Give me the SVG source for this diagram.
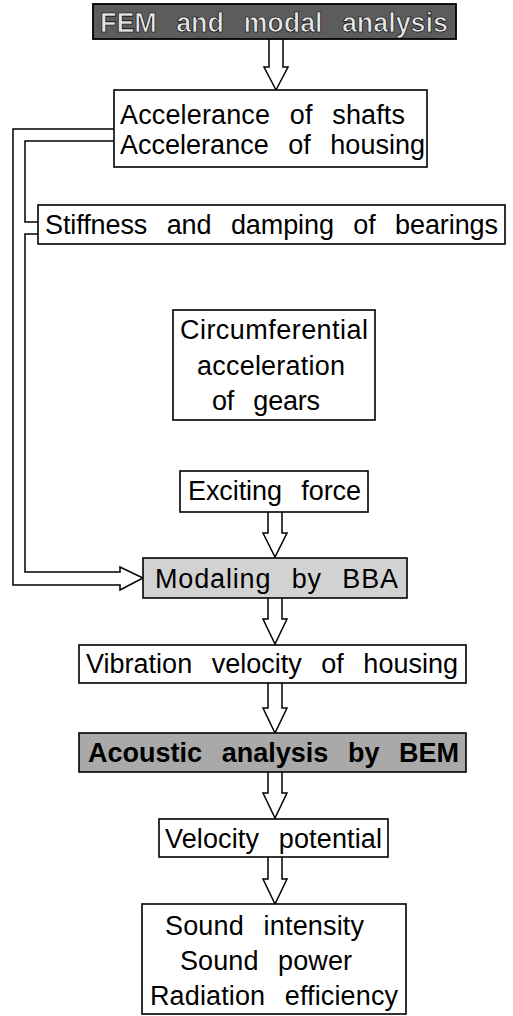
<svg xmlns="http://www.w3.org/2000/svg" width="513" height="1016" viewBox="0 0 513 1016">
<style>
.box{fill:#fff;stroke:#000;stroke-width:1.6}
.dark{fill:#5c5c5c;stroke:#000;stroke-width:1.8}
.mid{fill:#a9a9a9;stroke:#000;stroke-width:1.6}
.light{fill:#d2d2d2;stroke:#000;stroke-width:1.6}
text{font-family:"Liberation Sans",Arial,sans-serif;font-size:27px;fill:#000;word-spacing:12px}
.b{font-weight:bold}
.inv{fill:#e6e6e6;stroke:#000;stroke-width:0.7px}
.ln{fill:none;stroke:#000;stroke-width:1.5}
.arr{fill:#fff;stroke:#000;stroke-width:1.5;stroke-linejoin:miter}
</style>
<g id="connectors">
<path class="arr" d="M269,39 V67 H264 L276,90 L288,67 H283 V39"/>
<path class="arr" d="M268,512 V533 H263 L275,557 L287,533 H282 V512"/>
<path class="arr" d="M268,598 V619 H263 L275,644 L287,619 H282 V598"/>
<path class="arr" d="M268,683 V708 H263 L275,733 L287,708 H282 V683"/>
<path class="arr" d="M268,772 V793 H263 L275,818 L287,793 H282 V772"/>
<path class="arr" d="M268,857 V879 H263 L275,904 L287,879 H282 V857"/>
<path class="ln" d="M114,129 H13 V585 H120 V590 L143,578 L120,567 V572 H25 V234 H38"/>
<path class="ln" d="M114,141 H25 V222 H38"/>
</g>
<g id="fem">
<rect class="dark" x="93" y="4" width="363" height="35"/>
<text class="b inv" x="100" y="32" textLength="348" lengthAdjust="spacing">FEM and modal analysis</text>
</g>
<g id="accelerance">
<rect class="box" x="114" y="90" width="313" height="77"/>
<text x="120" y="124" textLength="285" lengthAdjust="spacing">Accelerance of shafts</text>
<text x="120" y="154" textLength="305" lengthAdjust="spacing">Accelerance of housing</text>
</g>
<g id="stiffness">
<rect class="box" x="38" y="205" width="467" height="39"/>
<text x="45" y="234" textLength="453" lengthAdjust="spacing">Stiffness and damping of bearings</text>
</g>
<g id="circumferential">
<rect class="box" x="173" y="310" width="202" height="110"/>
<text x="180" y="339" textLength="188" lengthAdjust="spacing">Circumferential</text>
<text x="197" y="375" textLength="148" lengthAdjust="spacing">acceleration</text>
<text x="212" y="410" textLength="108" lengthAdjust="spacing">of gears</text>
</g>
<g id="exciting">
<rect class="box" x="180" y="471" width="188" height="41"/>
<text x="188" y="500" textLength="173" lengthAdjust="spacing">Exciting force</text>
</g>
<g id="modaling">
<rect class="light" x="143" y="558" width="264" height="40"/>
<text x="155" y="588" textLength="243" lengthAdjust="spacing">Modaling by BBA</text>
</g>
<g id="vibration">
<rect class="box" x="79" y="645" width="387" height="38"/>
<text x="86" y="673" textLength="372" lengthAdjust="spacing">Vibration velocity of housing</text>
</g>
<g id="acoustic">
<rect class="mid" x="79" y="733" width="387" height="39"/>
<text class="b" x="88" y="762" textLength="371" lengthAdjust="spacing">Acoustic analysis by BEM</text>
</g>
<g id="velocity">
<rect class="box" x="159" y="819" width="229" height="38"/>
<text x="165" y="848" textLength="217" lengthAdjust="spacing">Velocity potential</text>
</g>
<g id="sound">
<rect class="box" x="142" y="904" width="264" height="110"/>
<text x="165" y="935" textLength="199" lengthAdjust="spacing">Sound intensity</text>
<text x="180" y="970" textLength="172" lengthAdjust="spacing">Sound power</text>
<text x="150" y="1005" textLength="248" lengthAdjust="spacing">Radiation efficiency</text>
</g>
</svg>
